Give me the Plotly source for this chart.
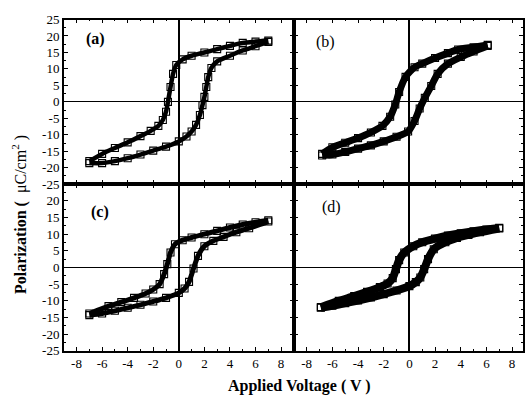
import plotly.graph_objects as go

# ---------------- data ----------------
# panel (a)
a_desc_v = [7.0, 6.0, 5.0, 4.0, 3.0, 2.0, 1.0, 0.3, -0.2, -0.45, -0.65, -0.85, -1.0, -1.25, -1.6, -2.2, -3.0, -4.0, -5.0, -6.0, -7.0]
a_desc_p = [18.6, 18.3, 17.9, 17.0, 16.0, 15.0, 14.0, 12.9, 11.2, 8.5, 4.5, 0.0, -3.0, -5.5, -7.3, -8.8, -10.4, -12.3, -14.0, -15.8, -18.0]
a_asc_v = [-7.0, -6.0, -5.0, -4.0, -3.0, -2.0, -1.0, 0.0, 0.6, 1.0, 1.35, 1.65, 1.85, 2.0, 2.15, 2.3, 2.55, 3.0, 4.0, 5.0, 6.0, 7.0]
a_asc_p = [-18.6, -18.6, -18.0, -17.1, -16.0, -14.8, -13.6, -12.0, -10.5, -9.0, -7.0, -4.0, -1.0, 1.5, 4.5, 7.5, 10.3, 12.3, 14.0, 15.6, 16.9, 18.2]

# panel (b)
b_desc_v = [6.1, 5.0, 3.8, 3.0, 2.0, 1.0, 0.4, -0.3, -0.8, -1.1, -1.5, -2.1, -3.0, -4.0, -5.0, -6.0, -6.8]
b_desc_p = [17.3, 16.6, 15.9, 14.8, 13.3, 11.6, 10.5, 7.6, 3.0, -0.8, -4.5, -7.3, -9.3, -11.0, -12.4, -13.8, -15.8]
b_asc_v = [-6.8, -6.0, -5.0, -4.0, -3.0, -2.0, -1.0, -0.1, 0.4, 0.8, 1.2, 1.7, 2.2, 3.0, 4.0, 5.0, 6.1]
b_asc_p = [-16.3, -16.0, -15.2, -14.2, -13.2, -12.0, -10.6, -9.0, -5.8, -2.0, 1.2, 4.8, 8.5, 11.6, 13.6, 15.3, 17.0]

# panel (c)
c_desc_v = [7.0, 6.0, 5.0, 4.0, 3.0, 2.0, 1.0, 0.3, -0.3, -0.65, -0.9, -1.15, -1.5, -2.0, -2.6, -3.5, -4.5, -5.5, -7.0]
c_desc_p = [14.2, 13.6, 12.9, 12.0, 11.0, 10.0, 9.0, 8.2, 7.0, 4.5, 1.0, -2.0, -5.0, -6.6, -7.8, -9.1, -10.4, -11.6, -13.8]
c_asc_v = [-7.0, -6.0, -5.0, -4.0, -3.0, -2.0, -1.0, 0.0, 0.45, 0.8, 1.15, 1.5, 2.0, 2.7, 3.5, 4.5, 5.5, 7.0]
c_asc_p = [-14.3, -13.8, -13.0, -12.1, -11.2, -10.2, -9.1, -7.6, -6.3, -4.3, -0.3, 3.5, 6.4, 8.0, 9.2, 10.6, 11.8, 13.8]

# panel (d)
d_desc_v = [7.0, 6.0, 5.0, 4.0, 3.0, 2.0, 1.0, 0.3, -0.4, -0.8, -1.05, -1.3, -1.7, -2.3, -3.3, -4.3, -5.5, -6.9]
d_desc_p = [11.9, 11.4, 10.9, 10.3, 9.6, 8.7, 7.6, 6.4, 4.5, 2.2, -0.5, -3.2, -4.8, -5.9, -7.3, -8.6, -10.0, -11.9]
d_asc_v = [-6.9, -6.0, -5.0, -4.0, -3.0, -2.0, -1.0, 0.0, 0.5, 0.85, 1.15, 1.45, 1.9, 2.8, 3.7, 4.6, 5.5, 7.0]
d_asc_p = [-12.1, -11.5, -10.7, -9.9, -9.0, -8.0, -6.9, -5.6, -4.4, -3.0, -0.5, 2.5, 5.5, 7.6, 8.9, 9.8, 10.6, 11.7]

panel_labels = ["(a)", "(b)", "(c)", "(d)"]

x_tickvals = [-8, -6, -4, -2, 0, 2, 4, 6, 8]
x_ticktext = ["-8", "-6", "-4", "-2", "0", "2", "4", "6", "8"]
y_tickvals = [-25, -20, -15, -10, -5, 0, 5, 10, 15, 20, 25]
y_ticktext_top = ["-25", "-20", "-15", "-10", "-5", "0", "5", "10", "15", "20", "25"]
y_ticktext_bottom = ["-25", "-20", "-15", "-10", "-5", "0", "5", "10", "15", "20", ""]

x_title = "Applied Voltage ( V )"
y_title = "<b>Polarization (</b>  μC/cm<sup>2</sup> )"

# ---------------- figure ----------------
FONT = "Liberation Serif, Times New Roman, serif"
fig = go.Figure()

panels = [
    ("x", "y", a_desc_v, a_desc_p, a_asc_v, a_asc_p, 4.5),
    ("x2", "y2", b_desc_v, b_desc_p, b_asc_v, b_asc_p, 7.0),
    ("x3", "y3", c_desc_v, c_desc_p, c_asc_v, c_asc_p, 5.0),
    ("x4", "y4", d_desc_v, d_desc_p, d_asc_v, d_asc_p, 8.0),
]

for xa, ya, dv, dp, av, ap, w in panels:
    for vv, pp in ((dv, dp), (av, ap)):
        fig.add_trace(go.Scatter(
            x=vv, y=pp, xaxis=xa, yaxis=ya, mode="lines+markers",
            line=dict(color="black", width=w, shape="spline", smoothing=0.6),
            marker=dict(symbol="square-open", size=7, color="black", line=dict(width=1.1, color="black")),
            hoverinfo="skip", showlegend=False))

xl = [64 / 525, 295 / 525]
xr = [295 / 525, 1.0]
yt = [1 - 184 / 406, 1 - 13 / 406]
yb = [1 - 357 / 406, 1 - 184 / 406]

def xaxis(domain, anchor, rng, labels):
    return dict(domain=domain, anchor=anchor, range=rng, showgrid=False,
                zeroline=True, zerolinecolor="black", zerolinewidth=2,
                showline=True, linecolor="black", linewidth=1.5, mirror="ticks",
                ticks="inside", ticklen=4, tickwidth=1, tickcolor="black",
                tickmode="array", tickvals=x_tickvals, ticktext=x_ticktext,
                showticklabels=labels,
                minor=dict(dtick=1, tick0=0, ticks="inside", ticklen=2, tickcolor="black", showgrid=False),
                tickfont=dict(family=FONT, size=13, color="black"))

def yaxis(domain, anchor, texts, labels):
    return dict(domain=domain, anchor=anchor, range=[-25, 25], showgrid=False,
                zeroline=True, zerolinecolor="black", zerolinewidth=1.2,
                showline=True, linecolor="black", linewidth=1.5, mirror="ticks",
                ticks="inside", ticklen=4, tickwidth=1, tickcolor="black",
                tickmode="array", tickvals=y_tickvals, ticktext=texts,
                showticklabels=labels,
                minor=dict(dtick=2.5, tick0=0, ticks="inside", ticklen=2, tickcolor="black", showgrid=False),
                tickfont=dict(family=FONT, size=13, color="black"))

fig.update_layout(
    width=525, height=406, margin=dict(l=0, r=0, t=0, b=0),
    paper_bgcolor="white", plot_bgcolor="white", showlegend=False,
    xaxis=xaxis(xl, "y", [-9, 9], False),
    yaxis=yaxis(yt, "x", y_ticktext_top, True),
    xaxis2=xaxis(xr, "y2", [-9, 8.85], False),
    yaxis2=yaxis(yt, "x2", y_ticktext_top, False),
    xaxis3=xaxis(xl, "y3", [-9, 9], True),
    yaxis3=yaxis(yb, "x3", y_ticktext_bottom, True),
    xaxis4=xaxis(xr, "y4", [-9, 8.85], True),
    yaxis4=yaxis(yb, "x4", y_ticktext_bottom, False),
)

label_pos = [("x", "y", -6.5, 19.2, True), ("x2", "y2", -6.5, 18.3, False),
             ("x3", "y3", -6.2, 16.8, True), ("x4", "y4", -6.1, 18.2, False)]
for (xa, ya, lx, ly, bold), txt in zip(label_pos, panel_labels):
    fig.add_annotation(x=lx, y=ly, xref=xa, yref=ya, showarrow=False,
                       xanchor="center", yanchor="middle",
                       text=("<b>%s</b>" % txt) if bold else txt,
                       font=dict(family=FONT, size=16, color="black"))

fig.add_annotation(x=301 / 525, y=1 - 394 / 406, xref="paper", yref="paper", showarrow=False,
                   xanchor="center", yanchor="middle",
                   text="<b>%s</b>" % x_title, font=dict(family=FONT, size=16, color="black"))
fig.add_annotation(x=19 / 525, y=1 - 215 / 406, xref="paper", yref="paper", showarrow=False,
                   xanchor="center", yanchor="middle",
                   textangle=-90, text=y_title, font=dict(family=FONT, size=16, color="black"))

fig.write_html("out.html")
